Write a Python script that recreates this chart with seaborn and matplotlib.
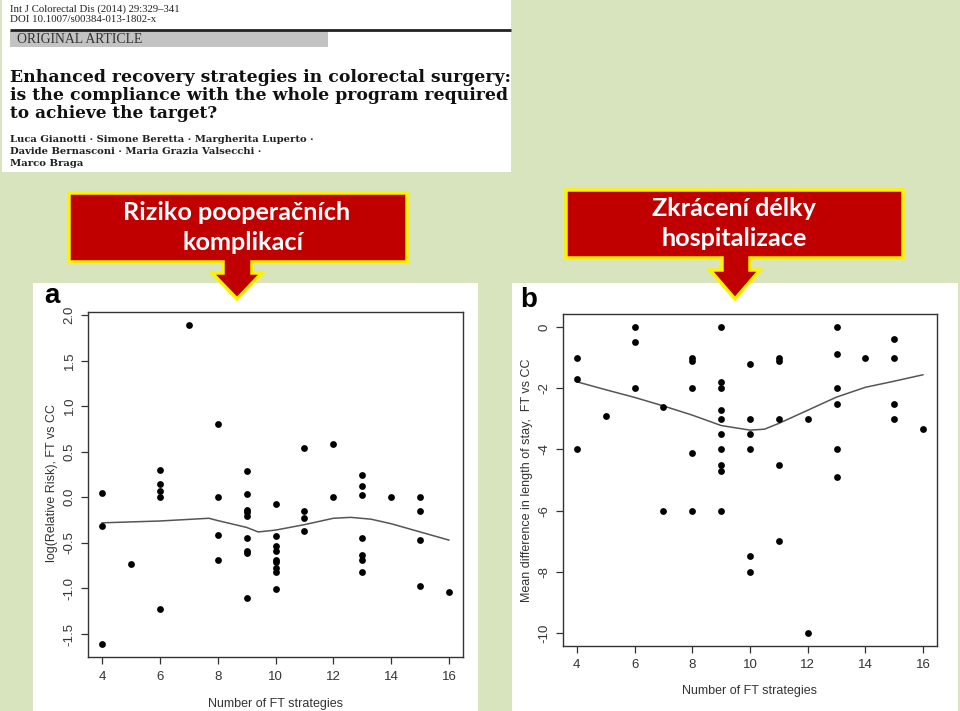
import numpy as np
import pandas as pd
import seaborn as sns
import matplotlib
matplotlib.use("Agg")
import matplotlib.pyplot as plt
from matplotlib.patches import Polygon, Rectangle

# ---------------- data ----------------
risk_x = [4, 4, 4, 5, 6, 6, 6, 6, 6, 7, 8, 8, 8, 8,
          9, 9, 9, 9, 9, 9, 9, 9, 9,
          10, 10, 10, 10, 10, 10, 10, 10, 10,
          11, 11, 11, 11, 12, 12,
          13, 13, 13, 13, 13, 13, 13, 14, 15, 15, 15, 15, 16]
risk_y = [0.05, -0.31, -1.61, -0.73, 0.30, 0.15, 0.07, 0.00, -1.22, 1.89,
          0.80, 0.00, -0.41, -0.69,
          0.29, 0.04, -0.14, -0.16, -0.21, -0.45, -0.59, -0.61, -1.10,
          -0.07, -0.42, -0.53, -0.59, -0.69, -0.71, -0.78, -0.82, -1.01,
          0.54, -0.15, -0.23, -0.37, 0.59, 0.00,
          0.24, 0.12, 0.02, -0.45, -0.63, -0.69, -0.82, 0.00,
          0.00, -0.15, -0.47, -0.97, -1.04]
risk_smooth_x = [4, 6, 7.7, 8, 9, 9.4, 10, 11, 12, 12.6, 13.3, 14, 15, 16]
risk_smooth_y = [-0.28, -0.26, -0.23, -0.255, -0.33, -0.38, -0.36, -0.30,
                 -0.23, -0.22, -0.24, -0.29, -0.38, -0.47]

los_x = [4, 4, 4, 5, 6, 6, 6, 7, 7, 8, 8, 8, 8, 8,
         9, 9, 9, 9, 9, 9, 9, 9, 9, 9,
         10, 10, 10, 10, 10, 10, 11, 11, 11, 11, 11, 12, 12,
         13, 13, 13, 13, 13, 13, 14, 15, 15, 15, 15, 16]
los_y = [-1.0, -1.69, -4.0, -2.9, 0.0, -0.5, -2.0, -2.6, -6.0,
         -1.0, -1.1, -2.0, -4.12, -6.0,
         0.0, -1.8, -2.0, -2.72, -3.0, -3.5, -4.0, -4.52, -4.72, -6.0,
         -1.2, -3.0, -3.5, -4.0, -7.5, -8.0,
         -1.0, -1.1, -3.0, -4.5, -7.0, -3.0, -10.0,
         0.0, -0.88, -2.0, -2.5, -4.0, -4.9, -1.0,
         -0.4, -1.0, -2.5, -3.0, -3.33]
los_smooth_x = [4, 5, 6, 7, 8, 9, 10, 10.5, 11, 12, 13, 14, 15, 16]
los_smooth_y = [-1.79, -2.05, -2.3, -2.58, -2.88, -3.22, -3.37, -3.34,
                -3.15, -2.72, -2.29, -1.97, -1.77, -1.56]

x_ticks = [4, 6, 8, 10, 12, 14, 16]
risk_ticks = [-1.5, -1.0, -0.5, 0.0, 0.5, 1.0, 1.5, 2.0]
risk_ticklabels = ["-1.5", "-1.0", "-0.5", "0.0", "0.5", "1.0", "1.5", "2.0"]
los_ticks = [-10, -8, -6, -4, -2, 0]
los_ticklabels = ["-10", "-8", "-6", "-4", "-2", "0"]

header_small = ["Int J Colorectal Dis (2014) 29:329\u2013341",
                "DOI 10.1007/s00384-013-1802-x"]
header_band = "ORIGINAL ARTICLE"
header_title = ["Enhanced recovery strategies in colorectal surgery:",
                "is the compliance with the whole program required",
                "to achieve the target?"]
header_authors = ["Luca Gianotti \u00b7 Simone Beretta \u00b7 Margherita Luperto \u00b7",
                  "Davide Bernasconi \u00b7 Maria Grazia Valsecchi \u00b7",
                  "Marco Braga"]
callout_left = ["Riziko pooperačních", "komplikací"]
callout_right = ["Zkrácení délky", "hospitalizace"]
x_label = "Number of FT strategies"
risk_label = "log(Relative Risk), FT vs CC"
los_label = "Mean difference in length of stay,  FT vs CC"

# ---------------- figure ----------------
sns.set_theme(style="white")
plt.rcParams["font.family"] = ["Liberation Sans", "DejaVu Sans"]

W, H = 960, 711
BG = "#D7E4BD"
fig = plt.figure(figsize=(W / 100, H / 100), dpi=100, facecolor=BG)
renderer = fig.canvas.get_renderer()

bg = fig.add_axes([0, 0, 1, 1], zorder=0)
bg.set_xlim(0, W)
bg.set_ylim(H, 0)
bg.axis("off")


def fit(t, target_w):
    w = t.get_window_extent(renderer).width
    t.set_fontsize(t.get_fontsize() * target_w / w)
    return t


# header image
bg.add_patch(Rectangle((2, 0), 509, 172, facecolor="white", edgecolor="none"))
serif = ["Liberation Serif", "DejaVu Serif"]
wide_serif = ["DejaVu Serif"]
for txt, y, w in zip(header_small, [9, 20], [172, 148]):
    fit(bg.text(10, y, txt, family=serif, fontsize=6, color="#222",
                ha="left", va="center"), w)
bg.plot([10, 511], [30, 30], color="#222", lw=2, solid_capstyle="butt")
bg.add_patch(Rectangle((10, 31), 318, 16, facecolor="#C3C3C3", edgecolor="none"))
fit(bg.text(17, 39.5, header_band, family=serif, fontsize=7, color="#333",
            ha="left", va="center"), 126)
for txt, y, w in zip(header_title, [78, 96, 113], [498, 494, 206]):
    fit(bg.text(10, y, txt, family=wide_serif, fontsize=12, weight="bold",
                color="#111", ha="left", va="center"), w)
for txt, y, w in zip(header_authors, [140, 152, 163], [302, 252, 74]):
    fit(bg.text(10, y, txt, family=wide_serif, fontsize=7, weight="bold",
                color="#222", ha="left", va="center"), w)

# white panels
bg.add_patch(Rectangle((33, 283), 445, 430, facecolor="white", edgecolor="none"))
bg.add_patch(Rectangle((512, 283), 446, 430, facecolor="white", edgecolor="none"))


def callout(x0, x1, y0, y1, sl, sr, hy, hl, hr, tx, ty):
    pts = [(x0, y0), (x1, y0), (x1, y1), (sr, y1), (sr, hy), (hr, hy),
           (tx, ty), (hl, hy), (sl, hy), (sl, y1), (x0, y1)]
    bg.add_patch(Polygon(pts, closed=True, facecolor="#C00000",
                         edgecolor="#FFF200", lw=2.5, joinstyle="miter",
                         zorder=3))


callout(69, 407, 193, 262, 223, 252, 273, 212, 262, 237, 299)
callout(566, 903, 190, 258, 722, 750, 270, 710, 760, 735, 299)

cfont = ["Lato", "DejaVu Sans"]
for txt, x, y in zip(callout_left, [237, 243], [213, 243]):
    bg.text(x, y, txt, family=cfont, weight="bold", fontsize=18.2,
            color="white", ha="center", va="center", zorder=4)
for txt, x, y in zip(callout_right, [734, 734], [209, 239]):
    bg.text(x, y, txt, family=cfont, weight="bold", fontsize=18.2,
            color="white", ha="center", va="center", zorder=4)

# panel letters
bg.text(44, 303, "a", weight="bold", fontsize=20, color="black",
        ha="left", va="baseline")
bg.text(520, 307, "b", weight="bold", fontsize=20, color="black",
        ha="left", va="baseline")


def px_axes(x0, y0, x1, y1):
    return fig.add_axes([x0 / W, 1 - y1 / H, (x1 - x0) / W, (y1 - y0) / H],
                        zorder=2)


def style(ax, xpad, ypad):
    for s in ax.spines.values():
        s.set_visible(True)
        s.set_color("#333333")
        s.set_linewidth(1.0)
    ax.tick_params(axis="both", direction="out", length=5, width=0.9,
                   color="#333333", labelcolor="#333333", labelsize=9.5,
                   left=True, bottom=True)
    ax.tick_params(axis="x", pad=xpad)
    ax.tick_params(axis="y", pad=ypad)
    for lab in ax.get_yticklabels():
        lab.set_rotation(90)
        lab.set_va("center")
    ax.grid(False)
    ax.set_facecolor("white")


# panel a
axa = px_axes(88, 312, 463, 657)
sns.scatterplot(x=risk_x, y=risk_y, ax=axa, color="black", s=24,
                linewidth=0, zorder=3)
sns.lineplot(x=risk_smooth_x, y=risk_smooth_y, ax=axa, color="#555555",
             lw=1.1, sort=False, estimator=None, zorder=2)
axa.set_xlim(3.52, 16.48)
axa.set_ylim(-1.752, 2.033)
axa.set_xticks(x_ticks)
axa.set_xticklabels([str(v) for v in x_ticks])
axa.set_yticks(risk_ticks)
axa.set_yticklabels(risk_ticklabels)
style(axa, 5, 4)
axa.set_xlabel(x_label, fontsize=9, color="#333333")
axa.set_ylabel(risk_label, fontsize=9, color="#333333")
axa.xaxis.set_label_coords(0.5, (657 - 704) / 345)
axa.xaxis.label.set_va("center")
axa.yaxis.set_label_coords(-36 / 375, 0.5 + (484.5 - 483) / 345)
axa.yaxis.label.set_va("center")

# panel b
axb = px_axes(563, 314, 937, 646)
sns.scatterplot(x=los_x, y=los_y, ax=axb, color="black", s=24,
                linewidth=0, zorder=3)
sns.lineplot(x=los_smooth_x, y=los_smooth_y, ax=axb, color="#555555",
             lw=1.1, sort=False, estimator=None, zorder=2)
axb.set_xlim(3.52, 16.48)
axb.set_ylim(-10.425, 0.425)
axb.set_xticks(x_ticks)
axb.set_xticklabels([str(v) for v in x_ticks])
axb.set_yticks(los_ticks)
axb.set_yticklabels(los_ticklabels)
style(axb, 4, 4)
axb.set_xlabel(x_label, fontsize=9, color="#333333")
axb.set_ylabel(los_label, fontsize=9, color="#333333")
axb.xaxis.set_label_coords(0.5, (646 - 691) / 332)
axb.xaxis.label.set_va("center")
axb.yaxis.set_label_coords(-36 / 374, 0.5)
axb.yaxis.label.set_va("center")

fig.savefig("out.png", dpi=100, facecolor=BG)
